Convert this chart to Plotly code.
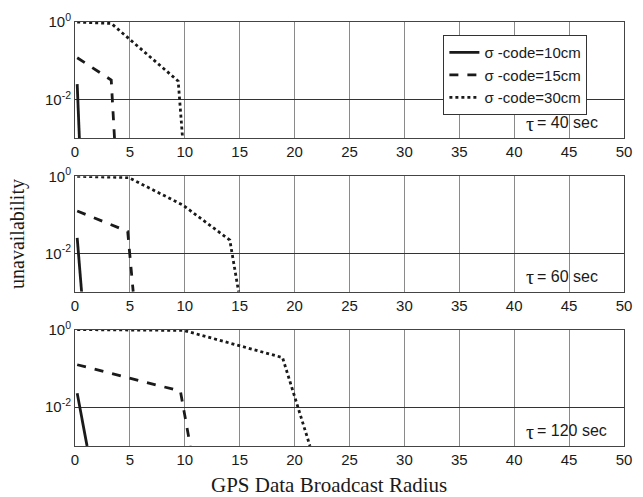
import plotly.graph_objects as go
from plotly.subplots import make_subplots

# ---- data ----
tau_labels = ["40 sec", "60 sec", "120 sec"]
series_names = ["σ -code=10cm", "σ -code=15cm", "σ -code=30cm"]

# tau = 40 sec
t40_x10 = [0.2, 0.4]
t40_y10 = [0.025, 0.001]
t40_x15 = [0.2, 3.3, 3.6]
t40_y15 = [0.12, 0.032, 0.001]
t40_x30 = [0.2, 3.3, 9.4, 9.8]
t40_y30 = [1.0, 0.92, 0.03, 0.001]

# tau = 60 sec
t60_x10 = [0.2, 0.6]
t60_y10 = [0.025, 0.001]
t60_x15 = [0.2, 4.8, 5.3]
t60_y15 = [0.125, 0.037, 0.001]
t60_x30 = [0.2, 4.9, 9.8, 14.1, 14.9]
t60_y30 = [1.0, 0.92, 0.18, 0.022, 0.001]

# tau = 120 sec
t120_x10 = [0.2, 1.1]
t120_y10 = [0.023, 0.001]
t120_x15 = [0.2, 9.6, 10.5]
t120_y15 = [0.124, 0.026, 0.001]
t120_x30 = [0.2, 9.9, 18.9, 21.4]
t120_y30 = [1.0, 0.95, 0.19, 0.001]

x_ticks = [0, 5, 10, 15, 20, 25, 30, 35, 40, 45, 50]
y_tickvals = [0.01, 1]
y_ticktext = ["10<sup>-2</sup>", "10<sup>0</sup>"]

panels = [
    [(t40_x10, t40_y10), (t40_x15, t40_y15), (t40_x30, t40_y30)],
    [(t60_x10, t60_y10), (t60_x15, t60_y15), (t60_x30, t60_y30)],
    [(t120_x10, t120_y10), (t120_x15, t120_y15), (t120_x30, t120_y30)],
]
dashes = ["solid", "dash", "dot"]
ink = "#1a1a1a"

fig = make_subplots(rows=3, cols=1)
for r, panel in enumerate(panels, start=1):
    for k, (xs, ys) in enumerate(panel):
        fig.add_trace(go.Scatter(
            x=xs, y=ys, mode="lines", name=series_names[k],
            line=dict(color=ink, width=2.8, dash=dashes[k]),
            showlegend=(r == 1), legendgroup=str(k), cliponaxis=True,
        ), row=r, col=1)

domains = [[0.7254, 1.0], [0.3638, 0.6362], [0.0, 0.2746]]
for r in range(1, 4):
    xa = "xaxis" if r == 1 else f"xaxis{r}"
    ya = "yaxis" if r == 1 else f"yaxis{r}"
    fig.layout[xa].update(
        range=[0, 50], tickvals=x_ticks, showgrid=True, gridcolor="#8a8a8a",
        gridwidth=1, showline=True, mirror=True, linecolor="#444", linewidth=1,
        ticks="", zeroline=False,
        tickfont=dict(family="Liberation Sans", size=15, color=ink),
    )
    fig.layout[ya].update(
        type="log", range=[-3, 0], tickvals=y_tickvals, ticktext=y_ticktext,
        domain=domains[r - 1], showgrid=True, gridcolor="#333", gridwidth=1,
        showline=True, mirror=True, linecolor="#444", linewidth=1, ticks="",
        zeroline=False,
        tickfont=dict(family="Liberation Sans", size=15, color=ink),
    )

# axis titles
fig.add_annotation(xref="paper", yref="paper", x=0.463, y=-0.058,
                   xanchor="center", yanchor="top", showarrow=False,
                   text="GPS Data Broadcast Radius",
                   font=dict(family="Liberation Serif", size=21, color=ink))
fig.layout.yaxis2.title = dict(text="unavailability",
                               font=dict(family="Liberation Serif", size=20, color=ink),
                               standoff=14)

# tau annotations
ann_y = [0.7254, 0.3638, 0.0]
for i, lab in enumerate(tau_labels):
    fig.add_annotation(xref="paper", yref="paper", x=0.818, y=ann_y[i] + 0.003,
                       xanchor="left", yanchor="bottom", showarrow=False,
                       text="τ", font=dict(family="Liberation Serif", size=20, color=ink))
    fig.add_annotation(xref="paper", yref="paper", x=0.838, y=ann_y[i] + 0.012,
                       xanchor="left", yanchor="bottom", showarrow=False,
                       text="= " + lab, font=dict(family="Liberation Sans", size=16, color=ink))

fig.update_layout(
    width=643, height=497,
    margin=dict(l=75, r=11, t=20, b=51),
    paper_bgcolor="white", plot_bgcolor="white",
    legend=dict(x=0.671, y=0.969, xanchor="left", yanchor="top",
                bgcolor="white", bordercolor="#333", borderwidth=1,
                font=dict(family="Liberation Sans", size=15, color=ink),
                itemwidth=30, tracegroupgap=0),
)

fig.write_html("out.html")
